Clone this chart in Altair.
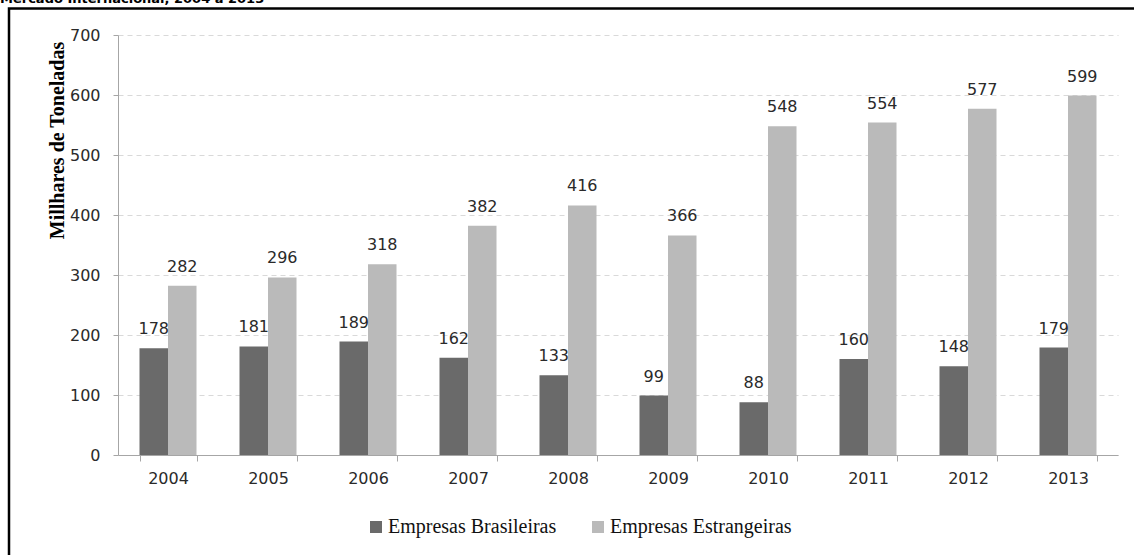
import altair as alt
import pandas as pd

anos = ["2004", "2005", "2006", "2007", "2008", "2009", "2010", "2011", "2012", "2013"]
brasileiras = [178, 181, 189, 162, 133, 99, 88, 160, 148, 179]
estrangeiras = [282, 296, 318, 382, 416, 366, 548, 554, 577, 599]
series = ["Empresas Brasileiras", "Empresas Estrangeiras"]
cores = ["#6a6a6a", "#bababa"]
y_ticks = [0, 100, 200, 300, 400, 500, 600, 700]
titulo = "Mercado Internacional, 2004 a 2013"

rows = []
for a, b, e in zip(anos, brasileiras, estrangeiras):
    rows.append({"Ano": a, "Serie": series[0], "Valor": b})
    rows.append({"Ano": a, "Serie": series[1], "Valor": e})
df = pd.DataFrame(rows)

x_enc = alt.X(
    "Ano:N",
    sort=anos,
    scale=alt.Scale(paddingInner=0.43, paddingOuter=0.215),
    axis=alt.Axis(
        title=None, labelAngle=0, grid=False, tickBand="extent",
        domainColor="#a6a6a6", tickColor="#a6a6a6", tickSize=6,
        labelFont="DejaVu Sans", labelFontSize=16, labelColor="#2a2a2a",
        labelPadding=9,
    ),
)
xoff = alt.XOffset("Serie:N", sort=series, scale=alt.Scale(domain=series))
y_enc = alt.Y(
    "Valor:Q",
    scale=alt.Scale(domain=[0, 700], nice=False),
    axis=alt.Axis(
        values=y_ticks, grid=True, gridColor="#d9d9d9", gridDash=[5, 4],
        domainColor="#a6a6a6", tickColor="#a6a6a6", tickSize=5,
        labelFont="DejaVu Sans", labelFontSize=16, labelColor="#2a2a2a",
        labelPadding=13,
        title="Millhares de Toneladas", titleFont="Liberation Serif",
        titleFontSize=20, titleFontWeight="bold", titleColor="#000000",
        titleAngle=270, titleX=-55, titleY=105, titleAlign="center",
        titleBaseline="alphabetic",
    ),
)

bars = alt.Chart(df).mark_bar().encode(
    x=x_enc,
    xOffset=xoff,
    y=y_enc,
    color=alt.Color(
        "Serie:N",
        scale=alt.Scale(domain=series, range=cores),
        legend=alt.Legend(
            title=None, orient="none", legendX=248, legendY=482,
            direction="horizontal", symbolType="square", symbolSize=144,
            symbolStrokeWidth=0, labelFont="Liberation Serif",
            labelFontSize=20, labelColor="#111111", labelOffset=2,
            labelLimit=400, columnPadding=31,
        ),
    ),
)

labels = alt.Chart(df).mark_text(
    dy=-14, baseline="alphabetic", font="DejaVu Sans", fontSize=16, color="#2a2a2a"
).encode(
    x=alt.X("Ano:N", sort=anos),
    xOffset=xoff,
    y="Valor:Q",
    text="Valor:Q",
)

frame = alt.Chart(pd.DataFrame({"k": [0]})).mark_rect(
    fillOpacity=0, stroke="#000000", strokeWidth=2.5
).encode(
    x=alt.value(-109), x2=alt.value(1040), y=alt.value(-26.5), y2=alt.value(560)
)

title_txt = alt.Chart(pd.DataFrame({"t": [titulo]})).mark_text(
    align="left", baseline="alphabetic", font="DejaVu Sans", fontWeight="bold",
    fontSize=13, color="#000000"
).encode(x=alt.value(-118), y=alt.value(-32.5), text="t:N")

chart = alt.layer(bars, labels, frame, title_txt).properties(
    width=1000,
    height=420,
    autosize=alt.AutoSizeParams(type="none"),
    padding={"left": 118, "top": 35, "right": 16, "bottom": 100},
).configure_view(stroke=None)

chart.save("out.html", embed_options={"renderer": "svg", "actions": False})
